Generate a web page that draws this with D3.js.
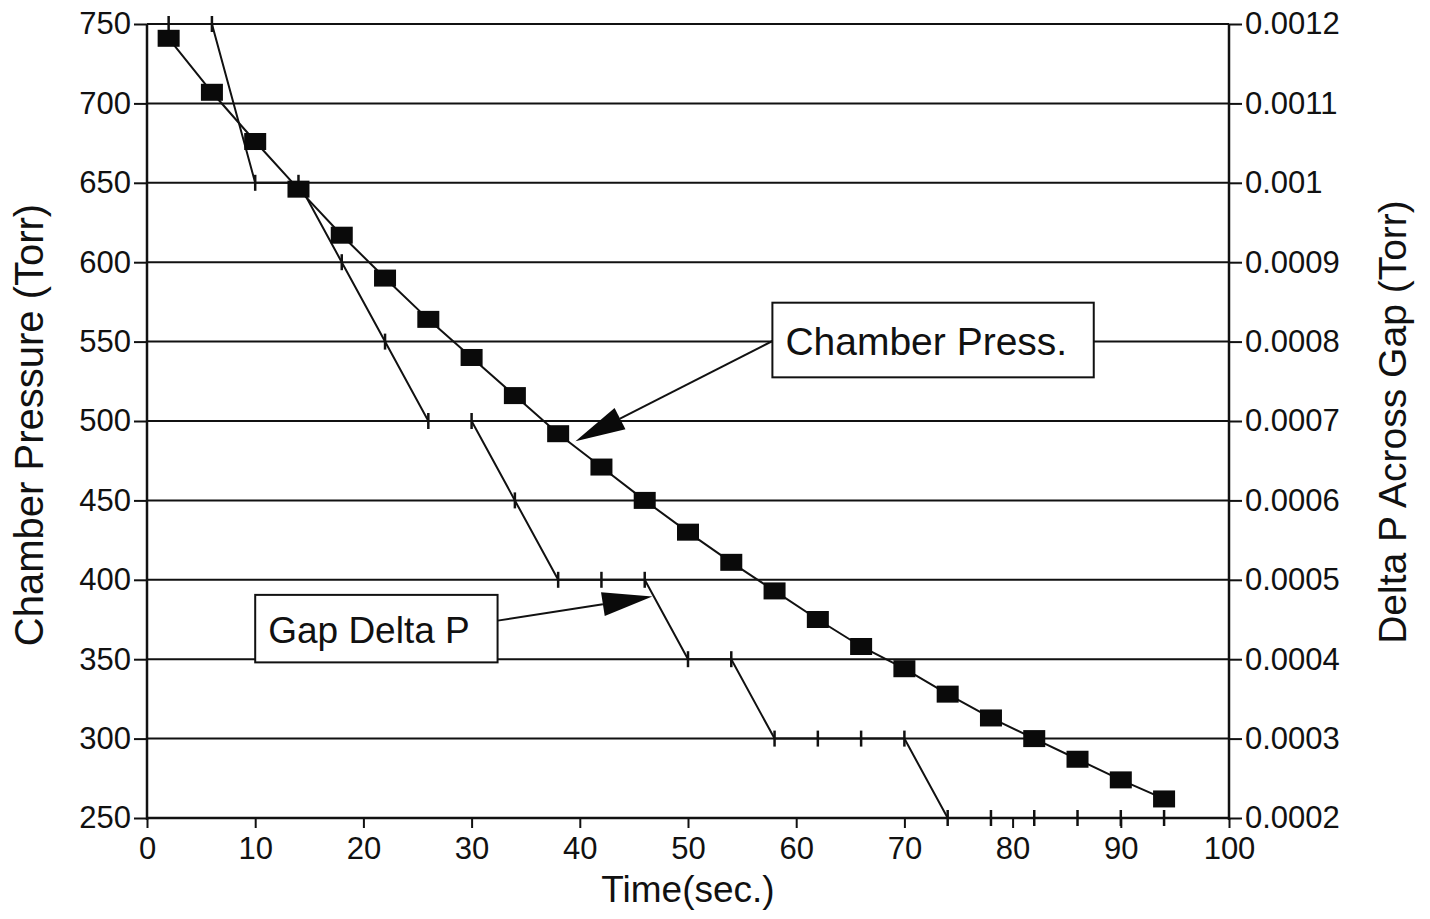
<!DOCTYPE html>
<html>
<head>
<meta charset="utf-8">
<script src="https://cdn.jsdelivr.net/npm/d3@7/dist/d3.min.js"></script>
<style>
  html, body { margin: 0; padding: 0; background: #fff; }
  svg { display: block; font-family: "Liberation Sans", Arial, Helvetica, sans-serif; }
</style>
</head>
<body>
<svg id="chart" width="1430" height="919"></svg>
<script>
// ---- data ----
const times = [2, 6, 10, 14, 18, 22, 26, 30, 34, 38, 42, 46, 50, 54, 58, 62, 66, 70, 74, 78, 82, 86, 90, 94];
const chamberPressure = [741, 707, 676, 646, 617, 590, 564, 540, 516, 492, 471, 450, 430, 411, 393, 375, 358, 344, 328, 313, 300, 287, 274, 262];
const gapDeltaP = [0.0012, 0.0012, 0.0010, 0.0010, 0.0009, 0.0008, 0.0007, 0.0007, 0.0006, 0.0005, 0.0005, 0.0005, 0.0004, 0.0004, 0.0003, 0.0003, 0.0003, 0.0003, 0.0002, 0.0002, 0.0002, 0.0002, 0.0002, 0.0002];
const xTicks = [0, 10, 20, 30, 40, 50, 60, 70, 80, 90, 100];
const leftTicks = [250, 300, 350, 400, 450, 500, 550, 600, 650, 700, 750];
const rightTicks = [0.0002, 0.0003, 0.0004, 0.0005, 0.0006, 0.0007, 0.0008, 0.0009, 0.001, 0.0011, 0.0012];
const rightTickLabels = ["0.0002", "0.0003", "0.0004", "0.0005", "0.0006", "0.0007", "0.0008", "0.0009", "0.001", "0.0011", "0.0012"];
const xTitle = "Time(sec.)";
const leftTitle = "Chamber Pressure (Torr)";
const rightTitle = "Delta P Across Gap (Torr)";
// annotations in data units: box corners (time, pressure) and arrow tip (time, pressure)
const annChamber = { text: "Chamber Press.", box: [57.8, 574.5, 87.5, 527.5], tip: [39.6, 487.2] };
const annGap = { text: "Gap Delta P", box: [10.0, 390.5, 32.4, 348.0], tip: [46.7, 389.5] };

// ---- layout ----
const L = 147, R = 1229, T = 24, B = 818;
const svg = d3.select("#chart");
const x = d3.scaleLinear().domain([0, 100]).range([L, R]);
const yL = d3.scaleLinear().domain([250, 750]).range([B, T]);
const yR = d3.scaleLinear().domain([0.0002, 0.0012]).range([B, T]);

// gridlines
svg.append("g").selectAll("line").data(leftTicks).join("line")
  .attr("x1", L).attr("x2", R)
  .attr("y1", d => yL(d)).attr("y2", d => yL(d))
  .attr("stroke", "#111").attr("stroke-width", 2);

// axes
const axL = d3.axisLeft(yL).tickValues(leftTicks).tickSize(13).tickPadding(3).tickFormat(d3.format("d"));
const gL = svg.append("g").attr("transform", `translate(${L},0)`).call(axL);
const axR = d3.axisRight(yR).tickValues(rightTicks).tickSize(13).tickPadding(3).tickFormat((d, i) => rightTickLabels[i]);
const gR = svg.append("g").attr("transform", `translate(${R},0)`).call(axR);
const axB = d3.axisBottom(x).tickValues(xTicks).tickSize(10).tickPadding(6).tickFormat(d3.format("d"));
const gB = svg.append("g").attr("transform", `translate(0,${B})`).call(axB);
[gL, gR, gB].forEach(g => {
  g.select(".domain").remove();
  g.selectAll(".tick line").attr("stroke", "#111").attr("stroke-width", 2);
  g.selectAll(".tick text").attr("fill", "#111").attr("font-size", 31)
    .attr("font-family", "'Liberation Sans', Arial, Helvetica, sans-serif");
});
gB.selectAll(".tick text").attr("dy", "0.82em");
// axis lines
svg.append("line").attr("x1", L).attr("x2", L).attr("y1", T).attr("y2", B + 2).attr("stroke", "#111").attr("stroke-width", 2.5);
svg.append("line").attr("x1", R).attr("x2", R).attr("y1", T).attr("y2", B + 2).attr("stroke", "#111").attr("stroke-width", 2.5);
svg.append("line").attr("x1", L).attr("x2", R).attr("y1", B).attr("y2", B).attr("stroke", "#111").attr("stroke-width", 2.5);

// titles
svg.append("text").attr("x", x(50)).attr("y", 902).attr("text-anchor", "middle")
  .attr("font-size", 37).attr("fill", "#111").text(xTitle);
svg.append("text").attr("transform", `translate(43,${(T + B) / 2 + 4}) rotate(-90)`).attr("text-anchor", "middle")
  .attr("font-size", 40).attr("fill", "#111").text(leftTitle);
svg.append("text").attr("transform", `translate(1406,${(T + B) / 2 + 1}) rotate(-90)`).attr("text-anchor", "middle")
  .attr("font-size", 39).attr("fill", "#111").text(rightTitle);

// gap delta P series
const gapPts = times.map((t, i) => [t, gapDeltaP[i]]);
svg.append("path").datum(gapPts)
  .attr("d", d3.line().x(d => x(d[0])).y(d => yR(d[1])))
  .attr("fill", "none").attr("stroke", "#111").attr("stroke-width", 2);
svg.append("g").selectAll("line").data(gapPts).join("line")
  .attr("x1", d => x(d[0])).attr("x2", d => x(d[0]))
  .attr("y1", d => yR(d[1]) - 8).attr("y2", d => yR(d[1]) + 8)
  .attr("stroke", "#111").attr("stroke-width", 2.5);

// chamber pressure series
const chPts = times.map((t, i) => [t, chamberPressure[i]]);
svg.append("path").datum(chPts)
  .attr("d", d3.line().x(d => x(d[0])).y(d => yL(d[1])))
  .attr("fill", "none").attr("stroke", "#111").attr("stroke-width", 2);
svg.append("g").selectAll("rect").data(chPts).join("rect")
  .attr("x", d => x(d[0]) - 11).attr("y", d => yL(d[1]) - 8.5)
  .attr("width", 22).attr("height", 17).attr("fill", "#0a0a0a");

// annotations
function annotate(a, fontSize, anchorSide) {
  const x0 = x(a.box[0]), y0 = yL(a.box[1]), x1 = x(a.box[2]), y1 = yL(a.box[3]);
  const tipX = x(a.tip[0]), tipY = yL(a.tip[1]);
  const startX = anchorSide === "left" ? x0 : x1;
  const startY = anchorSide === "left" ? (y0 + y1) / 2 + 1 : (y0 + y1) / 2 - 8;
  const dx = tipX - startX, dy = tipY - startY, len = Math.hypot(dx, dy);
  const ux = dx / len, uy = dy / len;
  const hl = 50, hw = 12;
  const bx = tipX - ux * hl, by = tipY - uy * hl;
  svg.append("line").attr("x1", startX).attr("y1", startY).attr("x2", bx).attr("y2", by)
    .attr("stroke", "#111").attr("stroke-width", 2);
  svg.append("path")
    .attr("d", `M${tipX},${tipY}L${bx - uy * hw},${by + ux * hw}L${bx + uy * hw},${by - ux * hw}Z`)
    .attr("fill", "#0a0a0a");
  svg.append("rect").attr("x", x0).attr("y", y0).attr("width", x1 - x0).attr("height", y1 - y0)
    .attr("fill", "#fff").attr("stroke", "#111").attr("stroke-width", 2);
  svg.append("text").attr("x", x0 + 13).attr("y", (y0 + y1) / 2).attr("dy", "0.38em")
    .attr("text-anchor", "start").attr("font-size", fontSize).attr("fill", "#111").text(a.text);
}
annotate(annChamber, 39, "left");
annotate(annGap, 37, "right");
</script>
</body>
</html>
